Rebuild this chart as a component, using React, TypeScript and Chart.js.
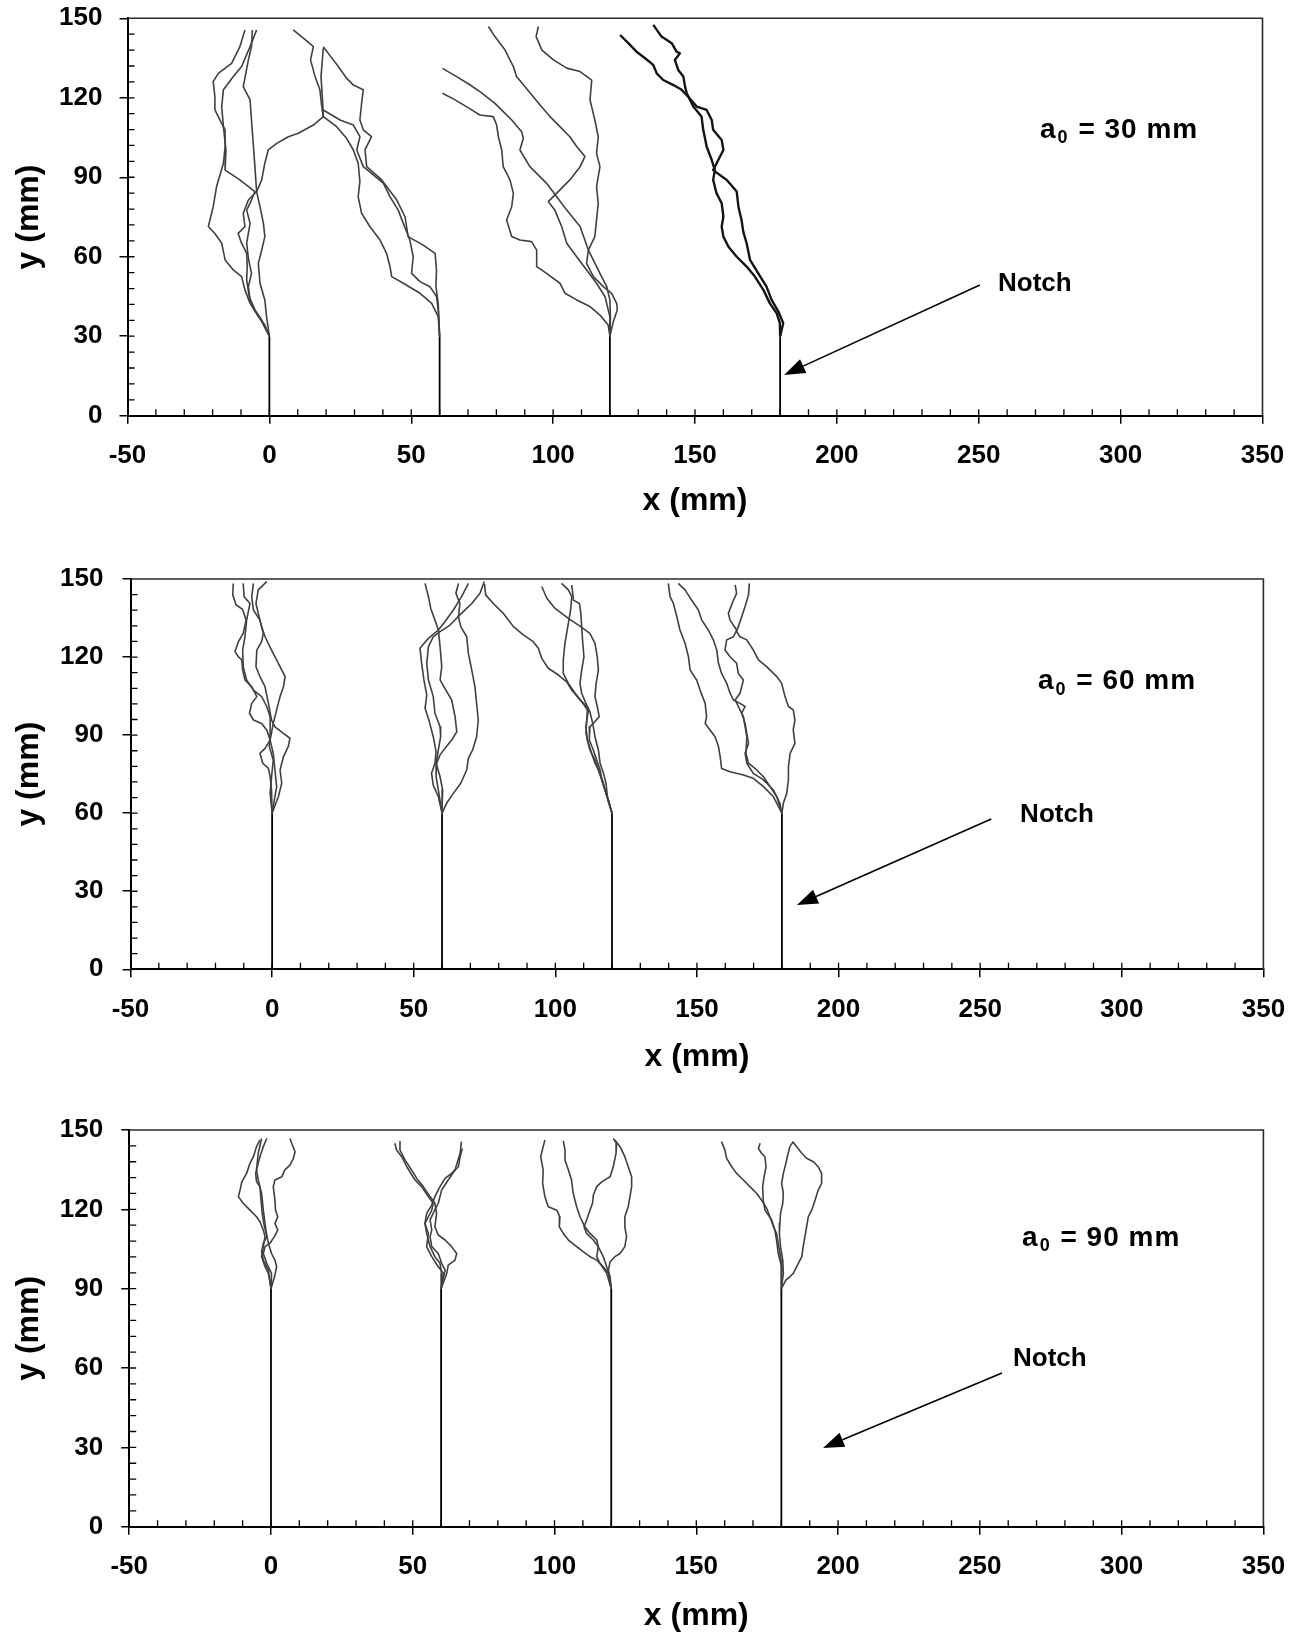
import React, { useEffect, useRef } from 'react';
import { Chart, registerables } from 'chart.js';

Chart.register(...registerables);

type P = [number, number];

const FAM = "'Liberation Sans', Arial, Helvetica, sans-serif";

// ---------- axes / ticks ----------
const xTickVals = [-50, 0, 50, 100, 150, 200, 250, 300, 350];
const yTickVals = [0, 30, 60, 90, 120, 150];
const xMinorTicks = [-40, -30, -20, -10, 0, 10, 20, 30, 40, 50, 60, 70, 80, 90, 100, 110, 120, 130, 140, 150, 160, 170, 180, 190, 200, 210, 220, 230, 240, 250, 260, 270, 280, 290, 300, 310, 320, 330, 340];
const yMinorTicks = [6, 12, 18, 24, 30, 36, 42, 48, 54, 60, 66, 72, 78, 84, 90, 96, 102, 108, 114, 120, 126, 132, 138, 144];
const notchX = [0, 60, 120, 180];
const notchDepth = [30, 60, 90];

// ---------- panel 1 (a0 = 30 mm) crack paths ----------
const p1a: P[] = [[-8.6,145.6],[-10.4,139.3],[-13.3,133.0],[-18.0,129.2],[-19.8,126.1],[-19.2,120.4],[-19.2,115.4],[-17.4,111.6],[-15.6,107.9],[-15.6,101.6],[-16.2,95.3],[-18.6,86.5],[-19.8,78.9],[-21.5,71.4],[-19.2,68.8],[-16.8,65.1],[-15.6,58.8],[-12.7,55.0],[-9.8,52.5],[-8.6,47.5],[-6.8,42.4],[-3.9,37.4],[-1.6,34.2],[0,30]];
const p1b: P[] = [[-4.5,145.6],[-6.8,139.3],[-9.8,131.8],[-12.7,128.0],[-16.2,123.0],[-16.8,116.7],[-16.2,109.1],[-15.3,100.3],[-15.6,92.7],[-10.4,89.0],[-5.1,84.6],[-6.3,81.4],[-8.0,77.6],[-6.8,72.6],[-8.0,65.1],[-7.4,59.4],[-6.3,53.7],[-7.4,48.7],[-6.8,43.7],[-5.1,39.9],[-2.7,36.1],[0,30]];
const p1c: P[] = [[-6.0,145.6],[-6.3,139.3],[-7.4,134.3],[-9.2,124.2],[-6.8,119.2],[-6.3,111.6],[-5.7,102.8],[-5.1,94.0],[-4.5,84.6],[-3.3,78.9],[-2.1,72.6],[-1.6,67.6],[-2.7,62.5],[-3.9,57.5],[-3.3,50.0],[-1.6,43.7],[-1.0,37.4],[0,30]];
const p1d: P[] = [[8.4,145.6],[12.0,142.5],[15.5,139.3],[14.5,134.3],[16.1,128.0],[17.8,123.0],[18.6,115.4],[19.0,112.9],[15.5,109.7],[10.2,106.6],[6.7,105.3],[2.6,102.8],[-0.4,100.3],[-1.6,95.3],[-2.7,89.0],[-4.5,84.6],[-7.4,81.4],[-9.2,76.4],[-8.6,71.4],[-11.0,68.8],[-9.8,65.1],[-8.0,61.3],[-7.8,56.3],[-8.0,51.2],[-7.1,45.0],[-5.1,39.9],[-2.7,35.5],[0,30]];
const p1e: P[] = [[19.0,139.3],[22.5,134.3],[24.3,131.8],[27.2,127.4],[29.6,124.8],[33.1,123.0],[32.5,117.9],[31.9,111.6],[33.1,107.9],[36.0,105.3],[33.7,100.3],[34.3,94.0],[39.6,89.0],[44.9,81.4],[47.8,75.1],[48.9,67.6],[54.2,64.4],[58.4,61.3],[58.9,55.0],[58.7,48.7],[59.5,42.4],[60,30]];
const p1f: P[] = [[19.0,138.7],[18.2,128.0],[18.8,117.9],[19.0,112.9],[23.7,109.1],[27.2,104.7],[29.6,100.3],[31.3,95.3],[31.9,88.4],[31.3,82.7],[32.5,76.4],[35.4,71.4],[39.0,66.3],[41.3,61.3],[42.5,56.3],[43.1,52.5],[47.2,50.0],[53.1,46.2],[57.2,42.4],[59.5,37.4],[60,30]];
const p1g: P[] = [[19.0,115.4],[24.9,111.6],[29.6,109.7],[31.9,105.3],[30.8,100.3],[33.1,94.0],[36.0,91.5],[40.2,87.7],[42.5,82.7],[45.4,77.6],[47.2,72.6],[49.5,66.3],[50.7,60.0],[50.1,53.7],[53.1,50.6],[56.6,48.7],[58.9,45.0],[59.5,39.9],[60,30]];
const p1h: P[] = [[61,121.7],[65,119.5],[70,116.3],[74.2,113.5],[78.9,112.9],[80.1,109.7],[80.7,105.3],[81.9,100.3],[82.4,94.0],[84.8,89.0],[86.0,83.9],[85.4,78.9],[83.6,73.9],[85.4,67.6],[88.3,66.3],[92.4,65.7],[94.2,62.5],[94.2,56.3],[97.7,53.7],[102.4,50.0],[104.2,46.2],[108.3,43.7],[113.0,41.2],[116.5,38.0],[119.4,34.2],[120,30]];
const p1i: P[] = [[61,131.1],[66,128.0],[70.5,125.0],[74.2,122.3],[79.5,117.9],[85.4,111.6],[88.9,107.2],[89.5,104.7],[88.3,100.3],[91.8,94.0],[97.7,87.7],[101.2,82.7],[104.8,77.6],[109.5,71.4],[112.4,62.6],[116.5,53.7],[118.9,48.7],[120,43.7],[120.2,37],[120,30]];
const p1j: P[] = [[77.2,146.9],[79.5,143.1],[83.0,138.1],[86.0,131.8],[87.1,128.0],[90.1,124.2],[93.0,120.4],[95.9,116.6],[98.9,112.9],[102.4,109.1],[105.9,105.3],[108.3,101.6],[111.2,97.8],[109.5,94.0],[105.9,89.0],[101.2,83.9],[98.3,80.8],[100.6,77.6],[103.0,71.4],[104.8,65.1],[108.3,60.0],[111.8,55.0],[115.3,50.0],[118.3,44.9],[120,37.4],[120,30]];
const p1k: P[] = [[94.8,146.9],[94.0,143.1],[96.0,138.1],[100.1,134.3],[104.8,131.2],[109.5,129.9],[113.6,126.7],[113.0,119.2],[114.7,111.6],[115.9,105.3],[115.3,99.0],[116.5,94.0],[115.3,86.5],[115.9,80.2],[115.3,73.9],[114.7,67.6],[112.4,62.5],[111.8,57.5],[114.2,52.5],[117.7,48.7],[120.6,46.2],[122.4,42.4],[122.6,39.9],[121.2,35.5],[120,30]];
const p1l: P[] = [[123.6,143.7],[126.5,140.6],[129.4,137.4],[132.4,134.9],[135.3,132.4],[136.5,129.2],[138.8,126.7],[142.4,124.8],[145.3,123.0],[147.6,120.4],[150.6,116.7],[154.1,115.4],[155.9,111.6],[156.4,107.9],[159.4,104.1],[160.0,100.3],[158.2,96.5],[156.4,92.7],[161.2,89.0],[164.7,84.6],[165.3,78.9],[166.4,73.9],[167.0,69.5],[168.2,65.1],[169.4,58.8],[172.3,53.7],[175.2,48.7],[177.0,43.7],[179.4,39.3],[181.1,34.9],[180,30]];
const p1m: P[] = [[135.3,147.5],[138.2,143.1],[141.8,140.6],[143.5,137.4],[144.7,136.8],[142.9,134.3],[144.1,130.5],[145.9,128.0],[146.5,124.2],[147.1,121.7],[149.4,116.7],[152.3,112.9],[152.9,107.9],[154.1,101.6],[155.9,96.5],[157.0,92.7],[156.4,89.0],[157.6,83.9],[159.4,80.2],[160.0,75.1],[159.4,71.4],[160.0,67.6],[161.8,63.8],[164.7,60.0],[168.2,56.3],[171.1,52.5],[174.1,47.5],[176.4,42.4],[178.8,38.6],[179.9,34.9],[180,30]];

// ---------- panel 2 (a0 = 60 mm) crack paths ----------
const p2a: P[] = [[-13.7,148.3],[-13.9,143.9],[-12.7,140.0],[-10.4,138.3],[-9.2,134.2],[-10.2,129.1],[-11.9,125.9],[-13.1,122.1],[-11.9,120.1],[-10.7,118.9],[-10.4,115.0],[-9.6,111.2],[-7.2,108.6],[-5.4,104.8],[-7.2,102.2],[-8.0,98.4],[-6.6,95.8],[-3.7,94.5],[-1.9,92.0],[-0.7,88.1],[-2.5,84.9],[-4.3,83.0],[-3.3,79.2],[-1.3,77.2],[-0.7,74.0],[-0.2,68.9],[0,60]];
const p2b: P[] = [[-1.9,149.0],[-4.9,145.8],[-5.7,140.6],[-4.9,136.8],[-3.7,131.7],[-2.5,127.8],[-0.2,122.7],[2.2,117.6],[4.6,112.5],[4.0,108.6],[2.8,104.8],[1.6,99.7],[0.4,94.5],[-0.7,88.1],[0.4,83.0],[1.0,76.6],[1.6,70.2],[0,60]];
const p2c: P[] = [[-6.6,148.3],[-7.2,143.2],[-6.6,138.1],[-4.3,134.2],[-3.1,129.1],[-3.7,125.9],[-5.4,122.7],[-5.7,116.3],[-4.3,112.5],[-2.5,108.6],[-1.3,102.2],[-0.2,95.8],[1.0,93.2],[4.0,90.7],[6.3,88.8],[5.7,85.6],[4.0,81.7],[2.8,76.6],[3.4,71.5],[2.2,66.3],[0,60]];
const p2d: P[] = [[-10.2,148.3],[-9.9,143.2],[-7.8,140.6],[-9.0,134.2],[-9.6,127.8],[-10.4,122.7],[-10.2,116.3],[-9.0,111.2],[-6.6,107.3],[-3.7,104.8],[-1.9,101.0],[-0.7,97.1],[-0.7,90.7],[-1.0,85.6],[0.4,80.4],[-0.2,74.0],[-0.7,67.6],[0,60]];
const p2e: P[] = [[54.0,148.3],[55.2,143.2],[56.0,138.7],[57.5,134.2],[58.7,130.4],[59.3,124.0],[59.9,116.3],[59.3,111.2],[61.0,108.0],[63.4,103.5],[64.6,97.1],[65.2,91.3],[63.4,88.1],[61.0,84.9],[59.3,82.4],[58.1,79.2],[57.9,74.0],[58.7,68.9],[60,60]];
const p2f: P[] = [[69.3,148.3],[66.9,143.2],[64.0,138.1],[61.0,133.6],[58.7,130.4],[55.2,127.2],[52.2,123.4],[52.8,117.6],[53.6,111.2],[54.6,105.4],[54.0,100.3],[55.5,95.2],[56.9,89.4],[57.9,83.6],[57.5,79.2],[56.3,75.3],[56.9,70.8],[58.7,66.3],[60,60]];
const p2g: P[] = [[65.8,148.3],[64.9,144.5],[66.3,140.6],[65.8,135.5],[66.6,131.7],[68.7,127.8],[69.3,121.4],[70.5,115.0],[71.6,108.6],[72.2,102.2],[72.8,95.8],[72.2,89.4],[70.8,84.3],[69.3,81.1],[68.7,76.6],[66.6,71.5],[64.0,67.6],[61.6,63.8],[60,60]];
const p2h: P[] = [[74.9,149.0],[73.4,144.5],[70.5,140.6],[66.3,136.2],[62.8,132.3],[59.3,129.8],[56.9,127.8],[55.2,124.0],[54.6,117.6],[55.2,111.2],[56.9,104.8],[57.5,98.4],[59.3,93.2],[59.5,89.4],[58.7,84.3],[57.9,79.2],[59.3,74.0],[60.2,68.9],[60,60]];
const p2i: P[] = [[75.0,148.0],[75.4,143.9],[78.1,140.6],[81.6,136.8],[85.2,131.7],[88.7,128.5],[92.2,125.9],[94.0,123.4],[95.2,119.5],[97.5,115.7],[101.1,113.1],[104.0,110.5],[105.8,107.3],[108.7,103.5],[110.5,101.6],[111.7,99.7],[111.3,97.1],[110.8,93.2],[111.3,88.1],[112.2,84.3],[114.0,80.4],[115.2,76.6],[116.4,72.8],[117.5,68.9],[118.7,65.1],[120,60]];
const p2j: P[] = [[95.2,147.1],[97.0,142.6],[99.9,138.7],[104.6,134.9],[108.7,131.9],[112.2,129.1],[114.0,125.3],[114.8,120.1],[115.2,115.0],[114.4,109.9],[114.0,104.8],[114.8,101.0],[115.5,97.1],[114.0,95.2],[112.2,93.2],[112.0,88.1],[113.4,84.3],[114.6,80.4],[115.8,76.6],[116.4,72.8],[117.5,68.9],[118.7,65.1],[120,60]];
const p2k: P[] = [[102.2,148.3],[104.6,145.8],[105.8,143.2],[105.4,138.1],[104.6,133.0],[103.4,125.3],[102.8,118.9],[102.8,113.7],[104.6,109.9],[107.0,106.1],[109.3,102.9],[111.3,99.7],[111.1,95.8],[110.8,90.7],[111.7,86.8],[112.8,83.0],[114.0,79.2],[115.8,75.3],[117.0,71.5],[117.9,67.6],[118.7,64.4],[120,60]];
const p2l: P[] = [[105.8,147.7],[106.4,141.9],[108.5,140.6],[109.0,136.8],[109.3,131.7],[109.7,125.3],[110.1,120.1],[109.3,115.0],[108.7,109.9],[109.3,106.1],[110.8,102.2],[112.2,99.0],[113.2,94.5],[114.0,89.4],[115.2,84.3],[115.8,79.2],[117.0,75.3],[117.9,71.5],[118.4,66.3],[120,60]];
const p2m: P[] = [[139.9,148.3],[140.5,143.2],[141.7,140.6],[142.9,135.5],[144.0,130.4],[145.8,125.3],[147.0,120.1],[147.6,115.0],[149.9,111.2],[151.1,107.3],[152.9,102.2],[153.4,97.1],[152.9,94.5],[154.6,92.0],[156.4,89.4],[157.6,85.6],[158.2,81.7],[158.7,77.2],[161.7,75.9],[166.4,74.7],[169.9,73.4],[173.5,70.2],[177.0,66.3],[180,60]];
const p2n: P[] = [[143.4,148.3],[145.8,145.8],[148.1,141.9],[150.5,138.1],[151.7,134.2],[154.0,130.4],[155.8,126.6],[157.0,122.7],[157.6,117.6],[158.7,113.7],[160.5,109.9],[161.7,106.1],[162.9,103.5],[165.2,102.2],[167.0,101.0],[165.8,98.4],[167.0,94.5],[167.6,90.7],[168.2,86.8],[167.0,83.0],[167.6,79.2],[169.9,75.3],[173.5,72.8],[177.0,68.9],[179.3,63.8],[180,60]];
const p2o: P[] = [[163.5,147.7],[164.0,144.5],[162.9,141.9],[161.1,136.8],[161.7,134.2],[164.0,130.4],[162.9,127.8],[160.5,126.6],[159.9,122.7],[161.7,120.1],[164.0,117.6],[164.6,113.7],[166.4,111.2],[165.2,106.1],[163.5,103.5],[165.2,99.7],[166.4,97.1],[167.6,89.4],[167.3,83.0],[168.2,79.2],[171.1,76.6],[173.5,74.0],[175.8,70.2],[178.2,66.3],[180,60]];
const p2p: P[] = [[168.5,148.3],[168.2,143.9],[167.0,139.4],[165.8,135.5],[164.6,131.7],[164.0,129.8],[165.2,127.8],[167.6,126.6],[169.9,122.7],[171.7,118.9],[174.6,116.3],[178.2,112.5],[179.9,109.9],[181.1,104.8],[182.3,101.0],[184.0,99.7],[184.6,95.8],[184.0,92.0],[184.6,86.8],[182.9,83.0],[182.3,77.9],[182.3,72.8],[181.7,67.6],[180.5,63.8],[180,60]];

// ---------- panel 3 (a0 = 90 mm) crack paths ----------
const p3a: P[] = [[-3.9,146.2],[-5.1,143.7],[-6.2,139.9],[-7.4,137.4],[-8.6,133.6],[-10.3,130.4],[-10.9,127.3],[-11.5,124.8],[-9.8,122.3],[-7.4,119.7],[-5.1,117.2],[-3.9,115.3],[-2.7,112.2],[-2.1,109.7],[-2.7,105.9],[-3.3,102.1],[-2.1,98.3],[-0.9,95.8],[0,90]];
const p3b: P[] = [[-1.5,146.8],[-2.7,143.7],[-3.9,139.9],[-4.5,137.4],[-5.4,133.6],[-5.1,130.4],[-3.9,128.6],[-3.5,123.5],[-3.1,118.5],[-2.3,113.4],[-1.5,110.3],[-0.9,107.1],[0.2,103.3],[1.4,100.8],[2.0,98.3],[1.4,95.2],[0,90]];
const p3c: P[] = [[-3.3,146.8],[-4.5,141.2],[-5.1,134.9],[-4.5,131.1],[-3.3,126.0],[-2.7,119.7],[-2.1,114.7],[-1.5,109.7],[-2.7,107.1],[-3.3,104.0],[-2.7,100.8],[-0.9,97.0],[0,90]];
const p3d: P[] = [[6.7,146.8],[7.3,145.0],[8.5,141.8],[7.9,139.3],[6.7,136.7],[4.9,134.9],[3.8,132.3],[1.4,131.1],[0.8,128.6],[1.4,123.5],[1.6,119.7],[2.4,117.2],[1.4,114.7],[2.4,112.2],[1.2,109.7],[-0.4,107.1],[-2.1,105.9],[-2.7,103.3],[-1.5,99.6],[0.2,95.8],[0,90]];
const p3e: P[] = [[43.7,145.0],[44.3,142.4],[46.1,139.9],[47.9,136.1],[49.0,134.2],[50.8,131.1],[53.1,128.6],[55.5,124.8],[57.2,122.3],[56.7,119.7],[55.5,117.2],[54.3,114.7],[54.9,110.9],[55.5,108.4],[56.1,105.9],[57.8,102.1],[59.6,99.6],[60.2,95.8],[60,90]];
const p3f: P[] = [[45.5,145.6],[45.5,142.4],[47.3,138.6],[49.6,134.9],[51.4,131.7],[53.7,128.6],[55.7,125.4],[57.8,122.3],[58.4,118.5],[57.8,113.4],[59.0,110.3],[61.4,108.4],[63.7,105.9],[65.5,103.3],[64.9,100.8],[62.5,98.9],[62.0,95.8],[60,90]];
const p3g: P[] = [[67.5,143.0],[66.7,139.9],[66.1,136.1],[63.7,133.6],[61.4,131.7],[59.6,128.6],[57.8,124.8],[56.7,121.6],[54.9,118.5],[54.3,114.7],[55.5,110.9],[54.9,105.9],[56.7,102.1],[59.0,98.3],[60.8,95.8],[60,90]];
const p3h: P[] = [[67.2,145.6],[66.7,141.2],[64.9,134.9],[62.5,131.1],[60.2,127.3],[59.0,122.3],[57.2,118.5],[56.1,116.0],[56.7,112.2],[56.1,109.7],[56.7,105.9],[59.0,103.3],[60.2,99.6],[61.4,97.0],[60,90]];
const p3i: P[] = [[96.6,146.2],[96.0,143.7],[95.1,139.9],[96.0,134.9],[95.8,129.8],[96.6,124.8],[97.8,121.0],[100.8,119.7],[101.9,117.2],[101.7,113.4],[103.1,110.9],[104.9,108.4],[107.8,105.9],[110.1,104.0],[112.5,102.1],[114.9,100.8],[117.2,98.3],[119.0,95.8],[120,90]];
const p3j: P[] = [[103.1,145.9],[103.7,142.4],[103.7,138.6],[104.9,134.9],[106.0,131.1],[106.6,126.0],[107.8,121.0],[109.0,117.2],[110.7,113.4],[112.5,110.9],[114.9,108.4],[115.4,105.9],[114.9,102.1],[116.0,99.6],[118.4,95.8],[120,90]];
const p3k: P[] = [[120.7,146.8],[121.9,145.0],[121.7,141.2],[120.7,136.1],[119.6,132.3],[116.6,130.4],[114.9,128.6],[113.7,125.4],[113.4,122.3],[112.5,119.7],[111.3,115.9],[110.4,113.4],[111.3,110.9],[113.7,108.4],[115.4,105.9],[117.2,102.1],[118.4,98.3],[119.6,94.5],[120,90]];
const p3l: P[] = [[121.3,146.2],[123.1,143.7],[124.8,139.9],[126.0,136.1],[127.2,132.3],[127.2,128.6],[126.6,124.8],[126.0,121.0],[124.8,117.2],[124.8,113.4],[125.4,109.7],[124.8,105.9],[123.1,103.3],[121.3,102.1],[119.6,100.2],[119.0,97.0],[120,90]];
const p3m: P[] = [[158.9,145.6],[160.1,142.4],[160.7,139.3],[162.5,136.1],[164.2,133.6],[166.6,131.1],[168.9,128.6],[171.3,126.0],[173.0,123.5],[174.8,120.4],[176.0,117.2],[177.2,113.4],[178.3,110.9],[178.9,107.1],[179.5,103.3],[180.1,99.6],[180,90]];
const p3n: P[] = [[172.5,145.0],[171.9,143.0],[173.0,141.2],[174.2,139.9],[174.6,136.1],[173.9,132.3],[173.4,128.6],[173.6,123.5],[174.2,119.7],[176.6,116.0],[177.7,112.2],[178.3,108.4],[178.9,103.3],[180.1,98.3],[180,90]];
const p3o: P[] = [[184.2,145.6],[183.0,143.7],[182.4,141.2],[181.6,137.4],[180.7,133.6],[180.1,129.8],[180.7,126.0],[180.5,122.3],[179.7,118.5],[179.5,114.7],[179.3,110.9],[179.7,105.9],[180.5,100.8],[180.7,95.8],[180,90]];
const p3p: P[] = [[184.0,145.6],[185.4,143.7],[187.2,141.2],[188.9,139.3],[191.3,138.0],[193.0,136.1],[194.2,133.6],[194.2,129.8],[193.0,127.3],[191.9,123.5],[190.7,119.7],[189.5,117.2],[188.9,113.4],[188.3,109.7],[187.7,105.9],[187.2,102.1],[185.4,98.3],[184.2,95.8],[183.0,94.5],[181.6,93.2],[180,90]];

// ---------- annotations (data units) ----------
const a0LabelPos: P[] = [[271.6, 107.9], [270.4, 110.5], [264.9, 109.0]];
const notchLabelPos: P[] = [[256.8, 49.7], [264.1, 59.3], [261.7, 63.4]];
const arrowFrom: P[] = [[250.4, 49.3], [253.9, 57.8], [257.8, 58.1]];
const arrowTo: P[] = [[181.4, 15.4], [185.3, 24.7], [194.7, 29.8]];

const panelPaths: P[][][] = [
  [p1a, p1b, p1c, p1d, p1e, p1f, p1g, p1h, p1i, p1j, p1k, p1l, p1m],
  [p2a, p2b, p2c, p2d, p2e, p2f, p2g, p2h, p2i, p2j, p2k, p2l, p2m, p2n, p2o, p2p],
  [p3a, p3b, p3c, p3d, p3e, p3f, p3g, p3h, p3i, p3j, p3k, p3l, p3m, p3n, p3o, p3p],
];
const boldPaths: P[][] = [p1l, p1m];

// ---------- layout (pixels) ----------
interface Layout { top: number; h: number; left: number; areaTop: number; areaBottom: number; right: number; titlePadB: number; yPad: number; }
const layouts: Layout[] = [
  { top: 0, h: 530, left: 127.5, areaTop: 18.3, areaBottom: 415.7, right: 1262.5, titlePadB: 12.5, yPad: 17 },
  { top: 545, h: 540, left: 130.5, areaTop: 34, areaBottom: 424.3, right: 1263.4, titlePadB: 11.5, yPad: 19 },
  { top: 1090, h: 543, left: 129.2, areaTop: 40, areaBottom: 436.7, right: 1263.4, titlePadB: 0.5, yPad: 18 },
];

function Panel({ idx }: { idx: number }) {
  const ref = useRef<HTMLCanvasElement>(null);
  const L = layouts[idx];
  useEffect(() => {
    const canvas = ref.current!;
    const a0 = notchDepth[idx];
    const datasets: any[] = [];
    panelPaths[idx].forEach((path) => {
      const bold = boldPaths.includes(path);
      datasets.push({
        data: path.map(([x, y]) => ({ x, y })),
        showLine: true,
        borderColor: bold ? '#151515' : '#404040',
        borderWidth: bold ? 2.4 : 1.6,
        pointRadius: 0,
        tension: 0,
        fill: false,
        borderJoinStyle: 'round',
      });
    });
    notchX.forEach((nx) => {
      datasets.push({
        data: [{ x: nx, y: 0 }, { x: nx, y: a0 }],
        showLine: true,
        borderColor: '#000',
        borderWidth: 1.8,
        pointRadius: 0,
      });
    });

    const decor = {
      id: 'decor' + idx,
      afterDraw(chart: any) {
        const { ctx, scales } = chart;
        const xs = scales.x, ys = scales.y;
        const X = (v: number) => xs.getPixelForValue(v);
        const Y = (v: number) => ys.getPixelForValue(v);
        ctx.save();
        // top and right frame
        ctx.strokeStyle = '#2a2a2a';
        ctx.lineWidth = 1.6;
        ctx.beginPath();
        ctx.moveTo(X(-50), Y(150));
        ctx.lineTo(X(350), Y(150));
        ctx.lineTo(X(350), Y(0));
        ctx.stroke();
        // inner minor ticks
        ctx.strokeStyle = '#000';
        ctx.lineWidth = 1.3;
        ctx.beginPath();
        yMinorTicks.forEach((v) => { ctx.moveTo(X(-50), Y(v)); ctx.lineTo(X(-50) + 7, Y(v)); });
        xMinorTicks.forEach((v) => { ctx.moveTo(X(v), Y(0)); ctx.lineTo(X(v), Y(0) - 6.5); });
        ctx.stroke();
        // a0 label with subscript
        ctx.fillStyle = '#000';
        ctx.textBaseline = 'middle';
        ctx.textAlign = 'left';
        const [lx, ly] = a0LabelPos[idx];
        let px = X(lx);
        const py = Y(ly);
        try { ctx.letterSpacing = '1px'; } catch (e) { /* ignore */ }
        ctx.font = `bold 28px ${FAM}`;
        ctx.fillText('a', px, py);
        px += ctx.measureText('a').width + 1;
        ctx.font = `bold 18px ${FAM}`;
        ctx.fillText('0', px, py + 8);
        px += ctx.measureText('0').width + 1;
        ctx.font = `bold 28px ${FAM}`;
        ctx.fillText(' = ' + a0 + ' mm', px, py);
        try { ctx.letterSpacing = '0px'; } catch (e) { /* ignore */ }
        // Notch label
        const [nx, ny] = notchLabelPos[idx];
        ctx.font = `bold 26px ${FAM}`;
        ctx.fillText('Notch', X(nx), Y(ny));
        // arrow
        const [fx, fy] = arrowFrom[idx];
        const [tx, ty] = arrowTo[idx];
        const x0 = X(fx), y0 = Y(fy), x1 = X(tx), y1 = Y(ty);
        const ang = Math.atan2(y1 - y0, x1 - x0);
        const headL = 21, headW = 7.5;
        const bx = x1 - headL * Math.cos(ang), by = y1 - headL * Math.sin(ang);
        ctx.strokeStyle = '#000';
        ctx.lineWidth = 1.6;
        ctx.beginPath();
        ctx.moveTo(x0, y0);
        ctx.lineTo(bx, by);
        ctx.stroke();
        ctx.beginPath();
        ctx.moveTo(x1, y1);
        ctx.lineTo(bx + headW * Math.sin(ang), by - headW * Math.cos(ang));
        ctx.lineTo(bx - headW * Math.sin(ang), by + headW * Math.cos(ang));
        ctx.closePath();
        ctx.fill();
        ctx.restore();
      },
    };

    const tickFont = { family: FAM, size: 26, weight: 'bold' as const };
    const titleFont = { family: FAM, size: 32, weight: 'bold' as const, lineHeight: 1 };

    const chart = new Chart(canvas, {
      type: 'scatter',
      data: { datasets },
      options: {
        animation: false,
        responsive: false,
        maintainAspectRatio: false,
        devicePixelRatio: 1,
        events: [],
        layout: { padding: { left: 0, top: L.areaTop, right: 1301 - L.right, bottom: 0 } },
        plugins: { legend: { display: false }, tooltip: { enabled: false } },
        scales: {
          x: {
            type: 'linear',
            min: -50,
            max: 350,
            afterBuildTicks: (s: any) => { s.ticks = xTickVals.map((v) => ({ value: v })); },
            afterFit: (s: any) => { s.height = L.h - L.areaBottom; s.paddingLeft = 0; s.paddingRight = 0; },
            ticks: { font: tickFont, color: '#000', padding: 16.5, maxRotation: 0, autoSkip: false, callback: (v: any) => String(v) },
            grid: { drawOnChartArea: false, drawTicks: true, tickLength: 8, color: '#000', lineWidth: 1.5 },
            border: { display: true, color: '#000', width: 2 },
            title: { display: true, text: 'x (mm)', font: titleFont, color: '#000', padding: { top: 0, bottom: L.titlePadB } },
          },
          y: {
            type: 'linear',
            min: 0,
            max: 150,
            afterBuildTicks: (s: any) => { s.ticks = yTickVals.map((v) => ({ value: v })); },
            afterFit: (s: any) => { s.width = L.left; s.paddingTop = 0; s.paddingBottom = 0; },
            ticks: { font: tickFont, color: '#000', padding: L.yPad, autoSkip: false, callback: (v: any) => String(v) },
            grid: { drawOnChartArea: false, drawTicks: true, tickLength: 8, color: '#000', lineWidth: 1.5 },
            border: { display: true, color: '#000', width: 2 },
            title: { display: true, text: 'y (mm)', font: titleFont, color: '#000', padding: { top: 13.5, bottom: 0 } },
          },
        },
      } as any,
      plugins: [decor],
    });
    return () => chart.destroy();
  }, []);
  return (
    <canvas
      ref={ref}
      width={1301}
      height={L.h}
      style={{ position: 'absolute', left: 0, top: L.top, width: 1301, height: L.h, display: 'block' }}
    />
  );
}

export default function App() {
  return (
    <div style={{ position: 'absolute', left: 0, top: 0, width: 1301, height: 1633, background: '#fff' }}>
      <Panel idx={0} />
      <Panel idx={1} />
      <Panel idx={2} />
    </div>
  );
}
